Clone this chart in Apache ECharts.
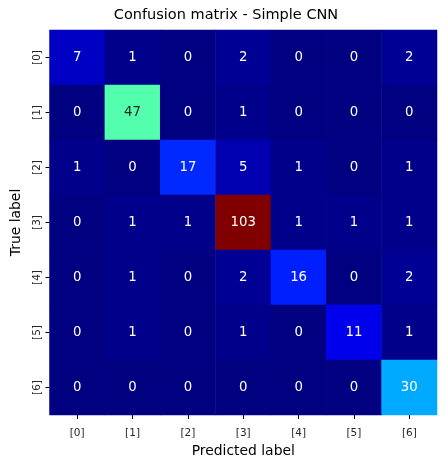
<!DOCTYPE html>
<html><head><meta charset="utf-8">
<style>html,body{margin:0;padding:0;background:#fff}#c{width:446px;height:464px}</style>
<script src="https://cdn.jsdelivr.net/npm/echarts@6/dist/echarts.min.js"></script></head>
<body><div id="c"></div>
<script>
const predictedLabels = ['[0]','[1]','[2]','[3]','[4]','[5]','[6]'];
const trueLabels = ['[0]','[1]','[2]','[3]','[4]','[5]','[6]'];
const matrix = [
 [7,1,0,2,0,0,2],
 [0,47,0,1,0,0,0],
 [1,0,17,5,1,0,1],
 [0,1,1,103,1,1,1],
 [0,1,0,2,16,0,2],
 [0,1,0,1,0,11,1],
 [0,0,0,0,0,0,30]
];
const jet = ['#000080','#0000ff','#0080ff','#00ffff','#80ff80','#ffff00','#ff8000','#ff0000','#800000'];
const font = 'DejaVu Sans';
const cells = [];
matrix.forEach((row,r)=>row.forEach((v,c)=>cells.push({value:[c,r,v],label:{color:v===47?'#262626':'#ffffff'}})));
const axisCommon = {
  type:'category', nameLocation:'middle',
  nameTextStyle:{fontFamily:font,fontSize:13.9,color:'#000'},
  axisLine:{show:false}, splitLine:{show:false}, splitArea:{show:false},
  axisTick:{show:true,length:4,alignWithLabel:true,lineStyle:{color:'#000',width:1}}
};
const chart = echarts.init(document.getElementById('c'),null,{renderer:'canvas'});
chart.setOption({
  animation:false,
  backgroundColor:'#fff',
  title:{text:'Confusion matrix - Simple CNN',left:221,top:3,textAlign:'center',
    textStyle:{fontFamily:font,fontSize:14.5,fontWeight:'normal',color:'#000'}},
  grid:{left:49.5,right:9,top:30,bottom:49,outerBoundsMode:'none'},
  xAxis:Object.assign({},axisCommon,{data:predictedLabels,name:'Predicted label',nameGap:23,
    axisLabel:{fontFamily:font,fontSize:10.5,color:'#262626',margin:13}}),
  yAxis:Object.assign({},axisCommon,{data:trueLabels,inverse:true,name:'True label',nameGap:26,
    axisLabel:{fontFamily:font,fontSize:10.5,color:'#262626',rotate:90,margin:7}}),
  visualMap:{show:false,min:0,max:103,dimension:2,inRange:{color:jet}},
  series:[{type:'heatmap',data:cells,
    label:{show:true,fontFamily:font,fontSize:13.3,formatter:p=>String(p.value[2])},
    itemStyle:{borderWidth:0},emphasis:{disabled:true}}]
});
</script></body></html>
